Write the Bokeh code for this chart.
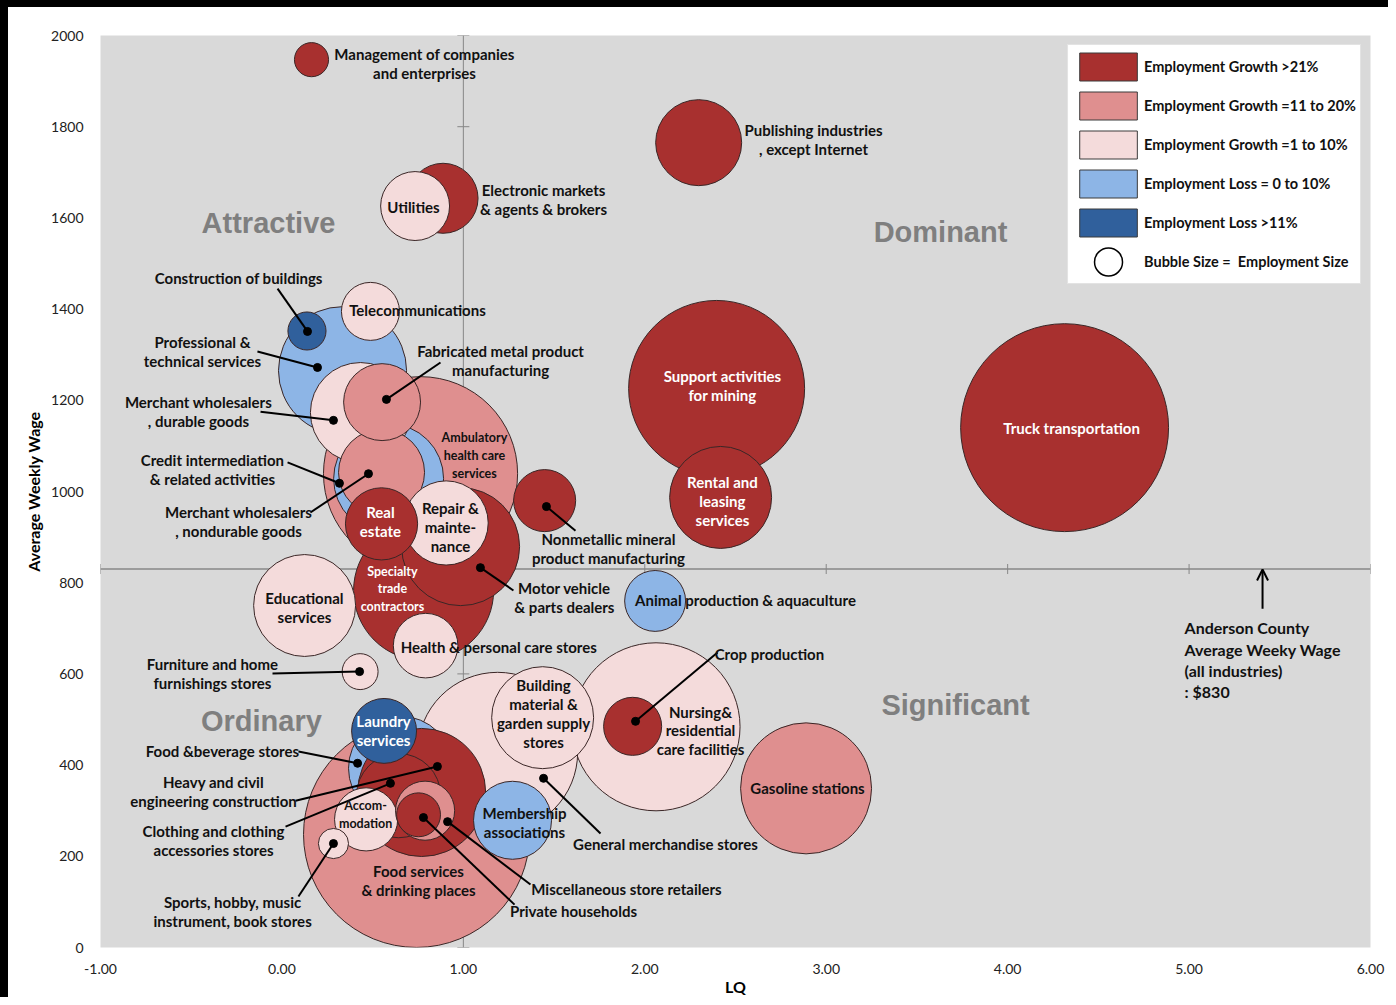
import numpy as np
from bokeh.plotting import figure
from bokeh.models import (ColumnDataSource, Range1d, FixedTicker, NumeralTickFormatter,
                          Span, Legend, LegendItem, Arrow, OpenHead)
from bokeh.core.properties import value
from bokeh.embed import file_html
from bokeh.resources import INLINE

# ---------------- data (listed in drawing order) ----------------
industries = [
    "Food services & drinking places", "Truck transportation", "Ambulatory health care services",
    "Support activities for mining", "Nursing & residential care facilities", "General merchandise stores",
    "Specialty trade contractors", "Gasoline stations", "Professional & technical services",
    "Food & beverage stores", "Heavy and civil engineering construction", "Motor vehicle & parts dealers",
    "Credit intermediation & related activities", "Educational services", "Rental and leasing services",
    "Building material & garden supply stores", "Merchant wholesalers, durable goods",
    "Publishing industries, except Internet", "Merchant wholesalers, nondurable goods",
    "Repair & maintenance", "Clothing and clothing accessories stores", "Membership associations",
    "Fabricated metal product manufacturing", "Real estate", "Electronic markets & agents & brokers",
    "Utilities", "Laundry services", "Health & personal care stores", "Accommodation",
    "Nonmetallic mineral product manufacturing", "Animal production & aquaculture",
    "Miscellaneous store retailers", "Telecommunications", "Crop production", "Private households",
    "Construction of buildings", "Furniture and home furnishings stores",
    "Management of companies and enterprises", "Sports, hobby, music instrument, book stores",
]
lq = [0.742, 4.314, 0.764, 2.396, 2.062, 1.189, 0.781, 2.889, 0.334, 0.654, 0.770, 0.985,
      0.588, 0.125, 2.418, 1.437, 0.433, 2.297, 0.549, 0.905, 0.643, 1.271, 0.552, 0.549,
      0.888, 0.734, 0.563, 0.792, 0.464, 1.448, 2.057, 0.789, 0.488, 1.933, 0.753, 0.138,
      0.431, 0.163, 0.284]
weekly_wage = [248, 1140, 1039, 1226, 484, 428, 783, 349, 1265, 393, 340, 879,
               1028, 750, 987, 504, 1173, 1765, 1042, 931, 333, 279, 1196, 929,
               1643, 1626, 475, 662, 281, 980, 760, 300, 1395, 485, 291, 1352,
               605, 1947, 228]
# employment size, expressed as bubble radius in LQ units
employment_size = [0.623, 0.573, 0.535, 0.485, 0.463, 0.441, 0.386, 0.361, 0.353, 0.287, 0.353, 0.325,
                   0.303, 0.281, 0.281, 0.281, 0.276, 0.237, 0.237, 0.232, 0.232, 0.215, 0.212, 0.199,
                   0.193, 0.190, 0.179, 0.178, 0.174, 0.171, 0.168, 0.163, 0.160, 0.160, 0.121, 0.105,
                   0.099, 0.094, 0.083]
growth_class = ["g11", "g21", "g11", "g21", "g1", "g1", "g21", "g11", "l0", "l0", "g21", "g21",
                "l0", "g1", "g21", "g1", "g1", "g21", "g11", "g1", "g21", "l0", "g11", "g21",
                "g21", "g1", "l11", "g1", "g1", "g21", "l0", "g11", "g1", "g21", "g21", "l11",
                "g1", "g21", "g1"]

class_keys = ["g21", "g11", "g1", "l0", "l11"]
class_labels = ["Employment Growth >21%", "Employment Growth =11 to 20%", "Employment Growth =1 to 10%",
                "Employment Loss = 0 to 10%", "Employment Loss >11%"]
class_colors = {"g21": "#a8302f", "g11": "#df8f8f", "g1": "#f4dbdb", "l0": "#8db5e6", "l11": "#30609c"}

x_ticks = [-1, 0, 1, 2, 3, 4, 5, 6]
y_ticks = [0, 200, 400, 600, 800, 1000, 1200, 1400, 1600, 1800, 2000]
lq_reference = 1.0
county_avg_wage = 830

# label annotations: text, LQ, wage
labels_black = [
    ("Management of companies\nand enterprises", 0.786, 1939),
    ("Publishing industries\n, except Internet", 2.930, 1772),
    ("Utilities", 0.725, 1625),
    ("Electronic markets\n& agents & brokers", 1.442, 1640),
    ("Construction  of buildings", -0.228, 1469),
    ("Telecommunications", 0.747, 1399),
    ("Professional &\ntechnical services", -0.438, 1307),
    ("Fabricated metal product\nmanufacturing", 1.205, 1287),
    ("Merchant wholesalers\n, durable goods", -0.460, 1175),
    ("Credit intermediation\n& related activities", -0.383, 1048),
    ("Repair &\nmainte-\nnance", 0.929, 923),
    ("Merchant wholesalers\n, nondurable goods", -0.239, 934),
    ("Nonmetallic mineral\nproduct manufacturing", 1.800, 875),
    ("Educational\nservices", 0.124, 746),
    ("Motor vehicle\n& parts dealers", 1.557, 768),
    ("Animal production & aquaculture", 2.555, 761),
    ("Health & personal care stores", 1.195, 660),
    ("Crop production", 2.687, 643),
    ("Furniture and home\nfurnishings stores", -0.383, 601),
    ("Building\nmaterial &\ngarden supply\nstores", 1.442, 513),
    ("Nursing&\nresidential\ncare facilities", 2.307, 476),
    ("Food &beverage stores", -0.328, 430),
    ("Heavy and civil\nengineering construction", -0.377, 342),
    ("Gasoline stations", 2.897, 349),
    ("Membership\nassociations", 1.337, 274),
    ("General merchandise stores", 2.114, 228),
    ("Clothing and clothing\naccessories stores", -0.377, 235),
    ("Food services\n& drinking places", 0.753, 147),
    ("Miscellaneous store retailers", 1.899, 129),
    ("Sports, hobby, music\ninstrument, book stores", -0.272, 79),
    ("Private households", 1.607, 79),
]
labels_black_small = [
    ("Ambulatory\nhealth care\nservices", 1.061, 1079),
    ("Accom-\nmodation", 0.461, 292),
]
labels_white = [
    ("Support activities\nfor mining", 2.428, 1232),
    ("Truck transportation", 4.352, 1140),
    ("Rental and\nleasing\nservices", 2.428, 980),
    ("Real\nestate", 0.543, 934),
    ("Laundry\nservices", 0.560, 476),
]
labels_white_small = [
    ("Specialty\ntrade\ncontractors", 0.609, 787),
]
quadrants = [("Attractive", -0.074, 1588), ("Dominant", 3.630, 1568),
             ("Ordinary", -0.113, 496), ("Significant", 3.713, 531)]

# leader lines: label end (x0, y0) -> bubble point (x1, y1)
leaders = [
    (-0.024, 1445, 0.141, 1351), (-0.135, 1307, 0.196, 1272), (-0.118, 1175, 0.284, 1156),
    (0.031, 1064, 0.317, 1018), (0.157, 954, 0.477, 1039), (0.874, 1283, 0.576, 1202),
    (1.618, 914, 1.458, 967), (1.276, 783, 1.094, 833), (-0.052, 601, 0.428, 605),
    (2.401, 647, 1.949, 496), (1.756, 250, 1.442, 371), (0.091, 430, 0.417, 404),
    (0.075, 322, 0.857, 397), (0.020, 265, 0.598, 360), (0.091, 112, 0.284, 228),
    (1.370, 138, 0.913, 276), (1.282, 94, 0.780, 285),
]

FONT = "Lato"

p = figure(width=1388, height=997, output_backend="svg", toolbar_location=None,
           x_range=Range1d(-1, 6), y_range=Range1d(0, 2000),
           min_border_left=92, min_border_right=26, min_border_top=28, min_border_bottom=57)
p.styles = {"border-left": "8px solid black", "border-top": "7px solid black"}
p.background_fill_color = "#d9d9d9"
p.border_fill_color = "white"
p.outline_line_color = None
p.xgrid.visible = False
p.ygrid.visible = False

for ax in (p.xaxis[0], p.yaxis[0]):
    ax.axis_line_color = None
    ax.major_tick_line_color = None
    ax.minor_tick_line_color = None
    ax.major_label_text_font = FONT
    ax.major_label_text_font_size = "14px"
    ax.major_label_text_color = "#222222"
    ax.axis_label_text_font = FONT
    ax.axis_label_text_font_style = "bold"
    ax.axis_label_text_font_size = "16px"
    ax.axis_label_text_color = "black"
p.xaxis.ticker = FixedTicker(ticks=x_ticks)
p.yaxis.ticker = FixedTicker(ticks=y_ticks)
p.xaxis.formatter = NumeralTickFormatter(format="0.00")
p.xaxis.axis_label = "LQ"
p.yaxis.axis_label = "Average Weekly Wage"
p.xaxis.major_label_standoff = 10
p.yaxis.major_label_standoff = 11
p.xaxis.axis_label_standoff = 0
p.yaxis.axis_label_standoff = 5

# cross lines
p.add_layout(Span(location=lq_reference, dimension="height", line_color="#878787", line_width=1, level="underlay"))
p.add_layout(Span(location=county_avg_wage, dimension="width", line_color="#878787", line_width=1.5, level="underlay"))
p.scatter(x=[lq_reference] * len(y_ticks), y=y_ticks, marker="dash", size=12, line_color="#878787", line_width=1)
p.scatter(x=x_ticks, y=[county_avg_wage] * len(x_ticks), marker="dash", angle=np.pi / 2, size=10,
          line_color="#878787", line_width=1)

# quadrant names
qsrc = ColumnDataSource(dict(x=[q[1] for q in quadrants], y=[q[2] for q in quadrants], t=[q[0] for q in quadrants]))
p.text(x="x", y="y", text="t", source=qsrc, text_font=value("Liberation Sans"), text_font_style="bold",
       text_font_size="29px", text_color="#7f7f7f", text_align="center", text_baseline="middle")

# bubbles
src = ColumnDataSource(dict(x=lq, y=weekly_wage, r=employment_size,
                            c=[class_colors[g] for g in growth_class], name=industries))
p.circle(x="x", y="y", radius="r", source=src, fill_color="c", fill_alpha=1,
         line_color="#3a2626", line_width=1)

# leader lines
lsrc = ColumnDataSource(dict(x0=[l[0] for l in leaders], y0=[l[1] for l in leaders],
                             x1=[l[2] for l in leaders], y1=[l[3] for l in leaders]))
p.segment(x0="x0", y0="y0", x1="x1", y1="y1", source=lsrc, line_color="black", line_width=2)
p.scatter(x="x1", y="y1", source=lsrc, size=8, color="black")

# labels
def add_labels(items, color, size, lh):
    s = ColumnDataSource(dict(x=[i[1] for i in items], y=[i[2] for i in items], t=[i[0] for i in items]))
    p.text(x="x", y="y", text="t", source=s, text_font=value(FONT), text_font_style="bold",
           text_font_size=size, text_color=color, text_align="center", text_baseline="middle",
           text_line_height=lh)

add_labels(labels_black, "#111111", "15px", 1.05)
add_labels(labels_black_small, "#111111", "12.5px", 1.17)
add_labels(labels_white, "white", "15px", 1.05)
add_labels(labels_white_small, "white", "12.5px", 1.17)

# Anderson County annotation
p.add_layout(Arrow(end=OpenHead(size=11, line_width=2, line_color="black"),
                   x_start=5.405, y_start=743, x_end=5.405, y_end=829,
                   line_color="black", line_width=2))
asrc = ColumnDataSource(dict(x=[4.975], y=[722],
                             t=["Anderson County\nAverage Weeky Wage\n(all industries)\n: $830"]))
p.text(x="x", y="y", text="t", source=asrc, text_font=value(FONT), text_font_style="bold",
       text_font_size="16px", text_color="#111111", text_align="left", text_baseline="top",
       text_line_height=1.12)

# legend
nan = np.array([np.nan])
items = []
for k, lab in zip(class_keys, class_labels):
    r = p.quad(left=nan, right=nan, top=nan, bottom=nan, fill_color=class_colors[k],
               line_color="#3a3a3a", line_width=1)
    items.append(LegendItem(label=lab, renderers=[r]))
rc = p.ellipse(x=nan, y=nan, width=28, height=28,
               width_units="screen", height_units="screen",
               fill_color="white", line_color="black", line_width=1.5)
items.append(LegendItem(label="Bubble Size =  Employment Size", renderers=[rc]))
legend = Legend(items=items, location="top_right", glyph_width=72, glyph_height=35, spacing=4,
                padding=4, margin=9, label_standoff=0, label_text_font=FONT,
                label_text_font_style="bold", label_text_font_size="14.5px",
                label_text_color="#111111", background_fill_color="white", background_fill_alpha=1,
                border_line_color="#c8c8c8", border_line_width=1)
p.add_layout(legend)

open("out.html", "w").write(file_html(p, INLINE))
